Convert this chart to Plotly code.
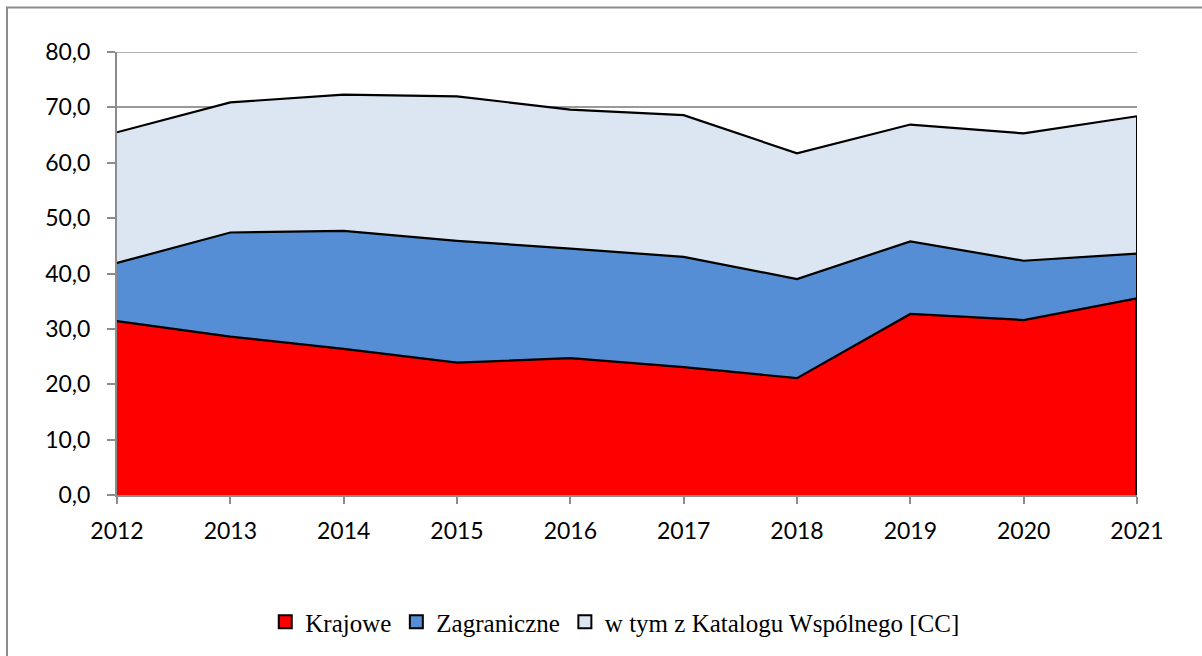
import plotly.graph_objects as go

years = [2012, 2013, 2014, 2015, 2016, 2017, 2018, 2019, 2020, 2021]
krajowe = [31.4, 28.6, 26.4, 23.9, 24.7, 23.1, 21.1, 32.7, 31.6, 35.5]
zagraniczne = [10.5, 18.8, 21.3, 22.0, 19.8, 19.9, 17.9, 13.1, 10.7, 8.1]
katalog = [23.6, 23.5, 24.6, 26.1, 25.1, 25.6, 22.7, 21.1, 23.0, 24.8]
names = ["Krajowe", "Zagraniczne", "w tym z Katalogu Wspólnego [CC]"]
colors = ["#FF0000", "#558ED5", "#DCE6F2"]
y_ticks = [0, 10, 20, 30, 40, 50, 60, 70, 80]

fig = go.Figure()
for name, vals, col in zip(names, [krajowe, zagraniczne, katalog], colors):
    fig.add_trace(go.Scatter(
        x=years, y=vals, name=name, mode="lines", stackgroup="one",
        fillcolor=col, line=dict(color="black", width=2.2),
        showlegend=False, hoverinfo="skip"))

total = [a + b + c for a, b, c in zip(krajowe, zagraniczne, katalog)]
fig.add_trace(go.Scatter(x=[years[-1], years[-1]], y=[0, total[-1]], mode="lines",
                         line=dict(color="black", width=2), showlegend=False,
                         hoverinfo="skip"))
fig.add_trace(go.Scatter(x=[years[-1], years[-1]], y=[0, krajowe[-1]], mode="lines",
                         line=dict(color="black", width=3.5), showlegend=False,
                         hoverinfo="skip"))

# legend entries (square swatches)
for name, col in zip(names, colors):
    fig.add_trace(go.Scatter(x=[None], y=[None], name=name, mode="markers",
                             marker=dict(symbol="square", size=13, color=col,
                                         line=dict(color="black", width=2)),
                             hoverinfo="skip"))

W, H = 1202, 656
L, R, T, B = 117, 1137, 52, 496
fig.update_layout(
    width=W, height=H,
    margin=dict(l=L, r=W - R, t=T, b=H - B, pad=0),
    paper_bgcolor="white", plot_bgcolor="white",
    showlegend=True,
    legend=dict(orientation="h", x=0.488, xanchor="center", y=-0.284, yanchor="middle",
                font=dict(family="Liberation Serif", size=25, color="black"),
                traceorder="normal", itemwidth=30,
                bgcolor="rgba(0,0,0,0)"),
    xaxis=dict(range=[years[0], years[-1]], tickmode="array", tickvals=years,
               ticktext=[str(y) for y in years], showgrid=False,
               showline=True, linecolor="#8C8C8C", linewidth=2,
               ticks="outside", ticklen=7, tickcolor="#8C8C8C", tickwidth=2,
               ticklabelstandoff=7,
               tickfont=dict(family="Lato", size=23, color="black"), zeroline=False),
    yaxis=dict(range=[0, 80], tickmode="array", tickvals=y_ticks,
               ticktext=[f"{v:.1f}".replace(".", ",") for v in y_ticks],
               showgrid=True, gridcolor="#999999", gridwidth=1.5,
               showline=True, linecolor="#8C8C8C", linewidth=2,
               ticks="outside", ticklen=8, tickcolor="#8C8C8C", tickwidth=2,
               ticklabelstandoff=12,
               tickfont=dict(family="Lato", size=23, color="black"), zeroline=False),
)
# top gridline at the last tick
fig.add_shape(type="line", xref="paper", yref="y", x0=0, x1=1,
              y0=y_ticks[-1], y1=y_ticks[-1],
              line=dict(color="#999999", width=1.5), layer="below")
fig.add_shape(type="rect", xref="paper", yref="paper",
              x0=(7 - L) / (R - L), x1=(1300 - L) / (R - L),
              y0=(B - 800) / (B - T), y1=(B - 7.5) / (B - T),
              line=dict(color="#8C8C8C", width=2), layer="below")
fig.write_html("out.html", config={"displayModeBar": False},
               post_script="document.body.style.margin='0';document.body.style.padding='0';")
